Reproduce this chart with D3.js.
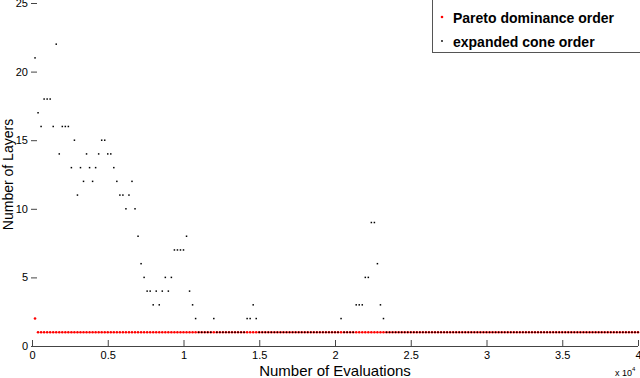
<!DOCTYPE html>
<html>
<head>
<meta charset="utf-8">
<style>
    body { margin: 0; background: #fff; }
    svg text { font-family: "Liberation Sans", Arial, sans-serif; }
</style>
</head>
<body>
<div id="chart"></div>
<script src="https://cdn.jsdelivr.net/npm/d3@7/dist/d3.min.js"></script>
<script>
    // evaluation counts at which the layers were recorded (every 200 evaluations)
    var evaluations = d3.range(200, 40001, 200);

    // Pareto dominance order: one layer everywhere except these
    var paretoExtraEvals = [200];
    var paretoExtraLayers = [2];

    // expanded cone order: one layer everywhere except these
    var coneExtraEvals = [200, 400, 600, 800, 1000, 1200, 1400, 1600, 1800, 2000,
        2200, 2400, 2600, 2800, 3000, 3200, 3400, 3600, 3800, 4000,
        4200, 4400, 4600, 4800, 5000, 5200, 5400, 5600, 5800, 6000,
        6200, 6400, 6600, 6800, 7000, 7200, 7400, 7600, 7800, 8000,
        8200, 8400, 8600, 8800, 9000, 9200, 9400, 9600, 9800, 10000,
        10200, 10400, 10600, 10800, 12000, 14200, 14400, 14600, 14800,
        20400, 21400, 21600, 21800, 22000, 22200, 22400, 22600, 22800, 23000, 23200];
    var coneExtraLayers = [21, 17, 16, 18, 18, 18, 16, 22, 14, 16,
        16, 16, 13, 15, 11, 13, 12, 14, 13, 12,
        13, 14, 15, 15, 14, 14, 13, 12, 11, 11,
        10, 11, 12, 10, 8, 6, 5, 4, 4, 3,
        4, 3, 4, 5, 4, 5, 7, 7, 7, 7,
        8, 4, 3, 2, 2, 2, 2, 3, 2,
        2, 3, 3, 3, 5, 5, 9, 9, 6, 3, 2];

    var xTicks = [0, 5000, 10000, 15000, 20000, 25000, 30000, 35000, 40000];
    var yTicks = [0, 5, 10, 15, 20, 25];
    var legendNames = ['Pareto dominance order', 'expanded cone order'];
    var colors = ['#ff0000', '#000000'];

    function series(extraEvals, extraLayers){
        return evaluations.map(function(e){
            var i = extraEvals.indexOf(e);
            return {e: e, v: i < 0 ? 1 : extraLayers[i]};
        });
    }
    var pareto = series(paretoExtraEvals, paretoExtraLayers),
        cone = series(coneExtraEvals, coneExtraLayers);

    var width = 640, height = 378;
    var x = d3.scaleLinear().domain([0, 40000]).range([32, 638]);
    var y = d3.scaleLinear().domain([0, 25]).range([346, 3]);

    var svg = d3.select('#chart').append('svg')
        .attr('width', width)
        .attr('height', height);

    // bottom axis, ticks pointing inward
    var xAxis = svg.append('g')
        .attr('transform', 'translate(0,' + y(0) + ')')
        .call(d3.axisBottom(x).tickValues(xTicks).tickSizeInner(-6).tickSizeOuter(0).tickPadding(5)
            .tickFormat(function(d){ return d3.format('~g')(d / 10000); }));
    xAxis.select('.domain').attr('stroke', '#444').attr('d', 'M' + (x(0) - 1) + ',0.5H' + x(40000));
    xAxis.selectAll('.tick line').attr('stroke', '#444');
    xAxis.selectAll('text').attr('font-size', 11).attr('fill', '#000');

    // left ticks only, no axis line
    var yAxis = svg.append('g')
        .attr('transform', 'translate(' + (x(0) - 1) + ',0)')
        .call(d3.axisLeft(y).tickValues(yTicks).tickSizeInner(-6).tickSizeOuter(0).tickPadding(3));
    yAxis.select('.domain').remove();
    yAxis.selectAll('.tick line').attr('stroke', '#444');
    yAxis.selectAll('text').attr('font-size', 11).attr('fill', '#000');

    // red points, then black points drawn on top
    svg.append('g').selectAll('circle')
        .data(pareto)
        .enter().append('circle')
        .attr('cx', function(d){ return x(d.e); })
        .attr('cy', function(d){ return y(d.v); })
        .attr('r', 1.3)
        .attr('fill', colors[0]);

    svg.append('g').selectAll('rect')
        .data(cone)
        .enter().append('rect')
        .attr('x', function(d){ return x(d.e) - 0.75; })
        .attr('y', function(d){ return y(d.v) - 0.75; })
        .attr('width', 1.5)
        .attr('height', 1.5)
        .attr('fill', colors[1]);

    // axis titles
    svg.append('text')
        .attr('transform', 'translate(13,' + ((y(0) + y(25)) / 2) + ') rotate(-90)')
        .attr('text-anchor', 'middle')
        .attr('font-size', 14)
        .text('Number of Layers');

    svg.append('text')
        .attr('x', (x(0) + x(40000)) / 2)
        .attr('y', 376)
        .attr('text-anchor', 'middle')
        .attr('font-size', 15)
        .text('Number of Evaluations');

    var mult = svg.append('text')
        .attr('x', 615)
        .attr('y', 376)
        .attr('font-size', 9);
    mult.append('tspan').text('x 10');
    mult.append('tspan').attr('dy', -5).attr('font-size', 6).text('4');

    // legend
    var legend = svg.append('g');
    legend.append('rect')
        .attr('x', 432.5).attr('y', -2)
        .attr('width', 220).attr('height', 54.5)
        .attr('fill', '#fff')
        .attr('stroke', '#555');
    legendNames.forEach(function(name, i){
        legend.append('circle')
            .attr('cx', 442).attr('cy', 17 + i * 24)
            .attr('r', i === 0 ? 1.3 : 0.9)
            .attr('fill', colors[i]);
        legend.append('text')
            .attr('x', 453).attr('y', 23 + i * 24)
            .attr('font-size', 14)
            .attr('font-weight', 'bold')
            .text(name);
    });
</script>
</body>
</html>
